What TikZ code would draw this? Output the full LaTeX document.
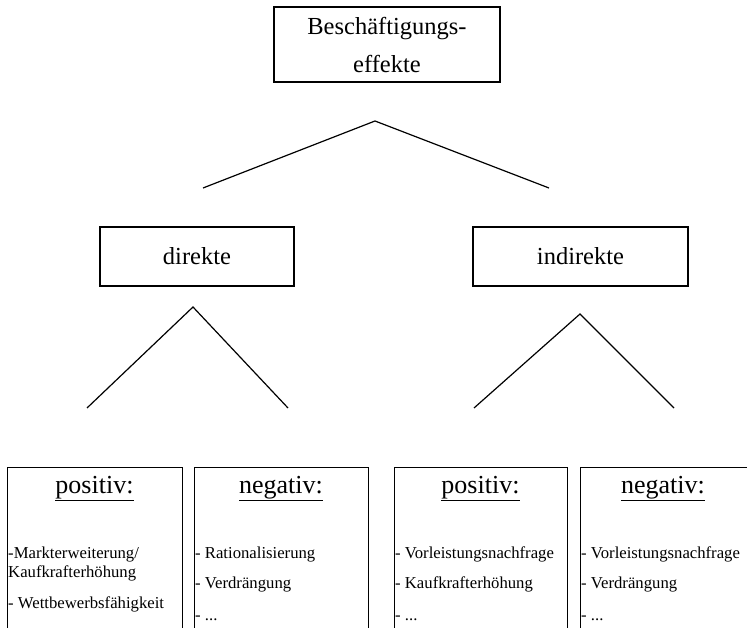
\documentclass[tikz,border=0pt]{standalone}
\usepackage{fontspec}
\setmainfont{Liberation Serif}
\tikzset{
  box/.style = {draw, line width=1.2pt, inner sep=0pt},
  big/.style = {font=\fontsize{24.5}{38}\selectfont},
  head/.style = {font=\fontsize{26}{30}\selectfont, anchor=base},
  item/.style = {font=\fontsize{16.7}{20}\selectfont, inner sep=0pt, anchor=base west},
  branch/.style = {line width=1.2pt}
}
\begin{document}
\begin{tikzpicture}[x=1pt, y=-1pt]
\useasboundingbox (0,0) rectangle (747,628);
\clip (0,0) rectangle (747,628);
\node[box, big, align=center, minimum width=226, minimum height=75] (top) at (387,44.5) {Besch\"aftigungs-\\effekte};
\coordinate (topapex) at (375,121);
\coordinate (topl) at (203,188);
\coordinate (topr) at (549,188);
\draw[branch] (topl) -- (topapex) -- (topr);
\node[box, big, minimum width=194, minimum height=59] (dir) at (197,256.5) {direkte};
\node[box, big, minimum width=215, minimum height=59] (indir) at (580.5,256.5) {indirekte};
\coordinate (dapex) at (193,307);
\coordinate (dl) at (87,408);
\coordinate (dr) at (288,408);
\draw[branch] (dl) -- (dapex) -- (dr);
\coordinate (iapex) at (580,314);
\coordinate (il) at (474,408);
\coordinate (ir) at (674,408);
\draw[branch] (il) -- (iapex) -- (ir);
% untere Kaesten
\node[box, anchor=north west, minimum width=175, minimum height=200] (dpos) at (7,467) {};
\node[box, anchor=north west, minimum width=174, minimum height=200] (dneg) at (194,467) {};
\node[box, anchor=north west, minimum width=173, minimum height=200] (ipos) at (394,467) {};
\node[box, anchor=north west, minimum width=180, minimum height=200] (ineg) at (580,467) {};
\node[head] (dposh) at (94.5,493) {\underline{positiv:}};
\node[head] (dnegh) at (281,493) {\underline{negativ:}};
\node[head] (iposh) at (480.5,493) {\underline{positiv:}};
\node[head] (inegh) at (663,493) {\underline{negativ:}};
\node[item] (dpos1) at (8,558) {-Markterweiterung/};
\node[item] (dpos2) at (8,577) {Kaufkrafterh\"ohung};
\node[item] (dpos3) at (8,608) {- Wettbewerbsf\"ahigkeit};
\node[item] (dneg1) at (195,558) {- Rationalisierung};
\node[item] (dneg2) at (195,588) {- Verdr\"angung};
\node[item] (dneg3) at (195,620) {- ...};
\node[item] (ipos1) at (395,558) {- Vorleistungsnachfrage};
\node[item] (ipos2) at (395,588) {- Kaufkrafterh\"ohung};
\node[item] (ipos3) at (395,620) {- ...};
\node[item] (ineg1) at (581,558) {- Vorleistungsnachfrage};
\node[item] (ineg2) at (581,588) {- Verdr\"angung};
\node[item] (ineg3) at (581,620) {- ...};
\end{tikzpicture}
\end{document}
